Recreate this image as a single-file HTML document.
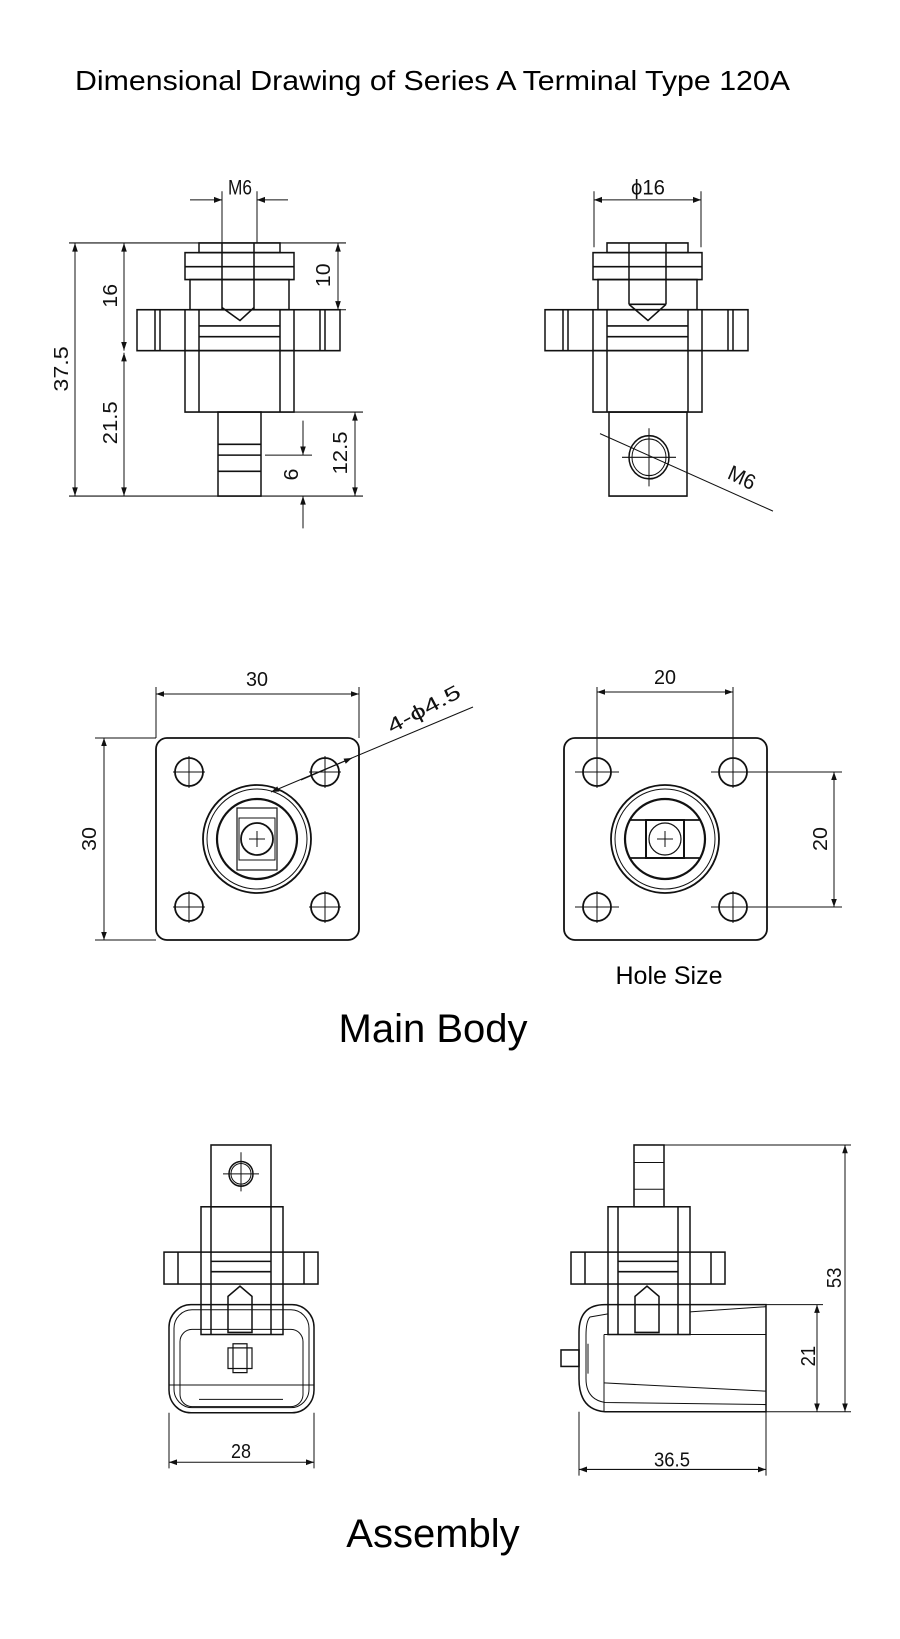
<!DOCTYPE html>
<html><head><meta charset="utf-8"><style>
html,body{margin:0;padding:0;background:#fff;}
svg{display:block;}
.t{font-family:"Liberation Sans",sans-serif;fill:#000;}
.d{font-family:"Liberation Sans",sans-serif;fill:#111;font-size:20px;}
</style></head><body>
<svg width="900" height="1639" viewBox="0 0 900 1639" xmlns="http://www.w3.org/2000/svg">
<defs>
<marker id="a" viewBox="0 0 10 10" refX="10" refY="5" markerWidth="12" markerHeight="8" markerUnits="userSpaceOnUse" orient="auto-start-reverse"><path d="M0,1.5 L10,5 L0,8.5 z" fill="#111"/></marker>
<g id="upper" fill="none" stroke="#111" stroke-width="1.5">
<rect x="199" y="228" width="81" height="9"/>
<rect x="185" y="237" width="109" height="25"/>
<line x1="185" y1="250" x2="294" y2="250"/>
<rect x="190" y="262" width="99" height="28"/>
<rect x="137" y="290" width="203" height="38"/>
<line x1="155" y1="290" x2="155" y2="328"/><line x1="160" y1="290" x2="160" y2="328"/>
<line x1="320" y1="290" x2="320" y2="328"/><line x1="325" y1="290" x2="325" y2="328"/>
<line x1="185" y1="290" x2="185" y2="328"/><line x1="294" y1="290" x2="294" y2="328"/>
<rect x="185" y="328" width="109" height="57"/>
<line x1="199" y1="290" x2="199" y2="385"/><line x1="280" y1="290" x2="280" y2="385"/>
<line x1="199" y1="305" x2="280" y2="305"/><line x1="199" y1="315" x2="280" y2="315"/>
</g>
<g id="asm" fill="none" stroke="#111" stroke-width="1.5">
<rect x="201" y="1203" width="82" height="124"/>
<line x1="211" y1="1203" x2="211" y2="1327"/><line x1="271" y1="1203" x2="271" y2="1327"/>
<rect x="164" y="1247" width="154" height="31"/>
<line x1="178" y1="1247" x2="178" y2="1278"/><line x1="304" y1="1247" x2="304" y2="1278"/>
<line x1="211" y1="1256" x2="271" y2="1256"/><line x1="211" y1="1266" x2="271" y2="1266"/>
<path d="M228,1290 L240,1280 L252,1290 L252,1325 L228,1325 Z"/>
</g>
</defs>

<text class="t" x="75" y="90" font-size="28" textLength="715" lengthAdjust="spacingAndGlyphs">Dimensional Drawing of Series A Terminal Type 120A</text>

<g transform="matrix(1,0,0,1.077,0,-2.6)">
<!-- View 1 -->
<use href="#upper"/>
<g fill="none" stroke="#111" stroke-width="1.5">
<line x1="222" y1="228" x2="222" y2="290"/><line x1="254" y1="228" x2="254" y2="290"/>
<path d="M222,288 L240,300 L254,288"/>
<rect x="218" y="385" width="43" height="78"/>
<line x1="218" y1="415" x2="261" y2="415"/><line x1="218" y1="425" x2="261" y2="425"/><line x1="218" y1="440" x2="261" y2="440"/>
</g>
<g stroke="#111" stroke-width="1" fill="none">
<line x1="222" y1="180" x2="222" y2="228"/><line x1="257" y1="180" x2="257" y2="228"/>
<line x1="190" y1="188" x2="222" y2="188" marker-end="url(#a)"/><line x1="288" y1="188" x2="257" y2="188" marker-end="url(#a)"/>
<line x1="69" y1="228" x2="346" y2="228"/><line x1="69" y1="463" x2="363" y2="463"/>
<line x1="261" y1="385" x2="363" y2="385"/><line x1="294" y1="290" x2="346" y2="290"/>
<line x1="265" y1="425" x2="312" y2="425"/>
<line x1="75" y1="228" x2="75" y2="463" marker-start="url(#a)" marker-end="url(#a)"/>
<line x1="124" y1="228" x2="124" y2="328" marker-start="url(#a)" marker-end="url(#a)"/>
<line x1="124" y1="330" x2="124" y2="463" marker-start="url(#a)" marker-end="url(#a)"/>
<line x1="338" y1="228" x2="338" y2="290" marker-start="url(#a)" marker-end="url(#a)"/>
<line x1="355" y1="385" x2="355" y2="463" marker-start="url(#a)" marker-end="url(#a)"/>
<line x1="303" y1="393" x2="303" y2="425" marker-end="url(#a)"/>
<line x1="303" y1="493" x2="303" y2="463" marker-end="url(#a)"/>
</g>
<text class="d" x="240" y="183" text-anchor="middle" textLength="24" lengthAdjust="spacingAndGlyphs">M6</text>
<text class="d" transform="translate(68,345) rotate(-90)" text-anchor="middle" textLength="42" lengthAdjust="spacingAndGlyphs">37.5</text>
<text class="d" transform="translate(117,277) rotate(-90)" text-anchor="middle" textLength="22" lengthAdjust="spacingAndGlyphs">16</text>
<text class="d" transform="translate(117,395) rotate(-90)" text-anchor="middle" textLength="40" lengthAdjust="spacingAndGlyphs">21.5</text>
<text class="d" transform="translate(330,258) rotate(-90)" text-anchor="middle" textLength="22" lengthAdjust="spacingAndGlyphs">10</text>
<text class="d" transform="translate(347,423) rotate(-90)" text-anchor="middle" textLength="40" lengthAdjust="spacingAndGlyphs">12.5</text>
<text class="d" transform="translate(298,443) rotate(-90)" text-anchor="middle">6</text>

<!-- View 2 -->
<use href="#upper" transform="translate(408,0)"/>
<g fill="none" stroke="#111" stroke-width="1.5">
<line x1="629" y1="228" x2="629" y2="285"/><line x1="666" y1="228" x2="666" y2="285"/>
<line x1="629" y1="285" x2="666" y2="285"/>
<path d="M629,285 L648,300 L666,285"/>
<rect x="609" y="385" width="78" height="78"/>
<circle cx="649" cy="427" r="20"/><circle cx="649" cy="427" r="17" stroke-width="1"/>
</g>
<g stroke="#111" stroke-width="1" fill="none">
<line x1="649" y1="400" x2="649" y2="454"/><line x1="622" y1="427" x2="676" y2="427"/>
<line x1="594" y1="180" x2="594" y2="232"/><line x1="701" y1="180" x2="701" y2="232"/>
<line x1="594" y1="188" x2="701" y2="188" marker-start="url(#a)" marker-end="url(#a)"/>
<line x1="600" y1="405" x2="773" y2="477"/>
</g>
<text class="d" x="648" y="183" text-anchor="middle" textLength="34" lengthAdjust="spacingAndGlyphs">ϕ16</text>
<text class="d" transform="translate(739,452) rotate(25)" text-anchor="middle" textLength="28" lengthAdjust="spacingAndGlyphs" fill="#444">M6</text>
</g>

<!-- Flange view left -->
<g fill="none" stroke="#111" stroke-width="1.8">
<rect x="156" y="738" width="203" height="202" rx="11"/>
<circle cx="189" cy="772" r="14"/><circle cx="325" cy="772" r="14"/>
<circle cx="189" cy="907" r="14"/><circle cx="325" cy="907" r="14"/>
<circle cx="257" cy="839" r="54"/><circle cx="257" cy="839" r="50" stroke-width="1"/>
<circle cx="257" cy="839" r="40" stroke-width="2.2"/>
<rect x="237" y="808" width="40" height="62" stroke-width="1.2"/>
<rect x="239" y="818" width="36" height="42" stroke-width="1"/>
<circle cx="257" cy="839" r="16"/>
</g>
<g stroke="#111" stroke-width="1" fill="none">
<path d="M173,772h32M189,756v32M309,772h32M325,756v32M173,907h32M189,891v32M309,907h32M325,891v32M249,839h16M257,831v16"/>
<line x1="156" y1="687" x2="156" y2="738"/><line x1="359" y1="687" x2="359" y2="738"/>
<line x1="156" y1="694" x2="359" y2="694" marker-start="url(#a)" marker-end="url(#a)"/>
<line x1="95" y1="738" x2="156" y2="738"/><line x1="95" y1="940" x2="156" y2="940"/>
<line x1="104" y1="738" x2="104" y2="940" marker-start="url(#a)" marker-end="url(#a)"/>
<line x1="473" y1="707" x2="271" y2="792" marker-end="url(#a)"/>
<line x1="301" y1="780" x2="352" y2="758" marker-end="url(#a)"/>
</g>
<text class="d" x="257" y="686" text-anchor="middle" textLength="22" lengthAdjust="spacingAndGlyphs">30</text>
<text class="d" transform="translate(96,839) rotate(-90)" text-anchor="middle" textLength="24" lengthAdjust="spacingAndGlyphs">30</text>
<text class="d" transform="translate(427,715) rotate(-28)" text-anchor="middle" textLength="80" lengthAdjust="spacingAndGlyphs" fill="#555">4-ϕ4.5</text>

<!-- Flange view right -->
<g fill="none" stroke="#111" stroke-width="1.8">
<rect x="564" y="738" width="203" height="202" rx="11"/>
<circle cx="597" cy="772" r="14"/><circle cx="733" cy="772" r="14"/>
<circle cx="597" cy="907" r="14"/><circle cx="733" cy="907" r="14"/>
<circle cx="665" cy="839" r="54"/><circle cx="665" cy="839" r="50" stroke-width="1"/>
<circle cx="665" cy="839" r="40" stroke-width="2.2"/>
<line x1="629" y1="820" x2="701" y2="820"/><line x1="629" y1="858" x2="701" y2="858"/>
<rect x="646" y="820" width="38" height="38" stroke-width="2"/>
<circle cx="665" cy="839" r="16" stroke-width="1.2"/>
</g>
<g stroke="#111" stroke-width="1" fill="none">
<path d="M575,772h44M597,756v32M711,772h44M733,756v32M575,907h44M597,891v32M711,907h44M733,891v32M657,839h16M665,831v16"/>
<line x1="597" y1="687" x2="597" y2="756"/><line x1="733" y1="687" x2="733" y2="756"/>
<line x1="597" y1="692" x2="733" y2="692" marker-start="url(#a)" marker-end="url(#a)"/>
<line x1="744" y1="772" x2="842" y2="772"/><line x1="744" y1="907" x2="842" y2="907"/>
<line x1="834" y1="772" x2="834" y2="907" marker-start="url(#a)" marker-end="url(#a)"/>
</g>
<text class="d" x="665" y="684" text-anchor="middle" textLength="22" lengthAdjust="spacingAndGlyphs">20</text>
<text class="d" transform="translate(827,839) rotate(-90)" text-anchor="middle" textLength="24" lengthAdjust="spacingAndGlyphs">20</text>
<text class="t" x="669" y="984" font-size="25" text-anchor="middle">Hole Size</text>
<text class="t" x="433" y="1042" font-size="40" text-anchor="middle">Main Body</text>

<g transform="matrix(1,0,0,1.03,0,-32.3)">
<!-- Assembly left -->
<use href="#asm"/>
<g fill="none" stroke="#111" stroke-width="1.5">
<rect x="211" y="1143" width="60" height="60"/>
<circle cx="241" cy="1171" r="12"/><circle cx="241" cy="1171" r="10" stroke-width="1"/>
<rect x="169" y="1298" width="145" height="105" rx="22"/>
<rect x="174" y="1303" width="135" height="95" rx="18" stroke-width="1"/>
<rect x="180" y="1322" width="123" height="75" rx="12" stroke-width="1"/>
<line x1="169" y1="1376" x2="314" y2="1376" stroke-width="1"/>
<line x1="199" y1="1390" x2="283" y2="1390" stroke-width="1"/>
<rect x="228" y="1340" width="24" height="20" stroke-width="1.2"/>
<rect x="233" y="1336" width="14" height="28" stroke-width="1.2"/>
</g>
<g stroke="#111" stroke-width="1" fill="none">
<path d="M223,1171h36M241,1150v38"/>
<line x1="169" y1="1403" x2="169" y2="1457"/><line x1="314" y1="1403" x2="314" y2="1457"/>
<line x1="169" y1="1451" x2="314" y2="1451" marker-start="url(#a)" marker-end="url(#a)"/>
</g>
<text class="d" x="241" y="1447" text-anchor="middle" textLength="20" lengthAdjust="spacingAndGlyphs">28</text>

<!-- Assembly right -->
<use href="#asm" transform="translate(407,0)"/>
<g fill="none" stroke="#111" stroke-width="1.5">
<rect x="634" y="1143" width="30" height="60"/>
<line x1="634" y1="1160" x2="664" y2="1160" stroke-width="1"/><line x1="634" y1="1186" x2="664" y2="1186" stroke-width="1"/>
<path d="M766,1298 L766,1402 L605,1402 Q579,1400 579,1370 L579,1325 Q579,1298 605,1298 Z"/>
<path d="M608,1307 L590,1310 Q586,1314 586,1328 L586,1370 Q586,1390 605,1393 L766,1395" stroke-width="1"/>
<line x1="690" y1="1305" x2="766" y2="1300" stroke-width="1"/>
<line x1="604" y1="1327" x2="766" y2="1327" stroke-width="1"/>
<line x1="604" y1="1374" x2="766" y2="1382" stroke-width="1"/>
<line x1="604" y1="1327" x2="604" y2="1402" stroke-width="1"/>
<rect x="561" y="1342" width="18" height="16"/>
<line x1="588" y1="1336" x2="588" y2="1365" stroke-width="1"/>
</g>
<g stroke="#111" stroke-width="1" fill="none">
<line x1="664" y1="1143" x2="851" y2="1143"/><line x1="766" y1="1298" x2="823" y2="1298"/>
<line x1="766" y1="1402" x2="851" y2="1402"/>
<line x1="845" y1="1143" x2="845" y2="1402" marker-start="url(#a)" marker-end="url(#a)"/>
<line x1="817" y1="1298" x2="817" y2="1402" marker-start="url(#a)" marker-end="url(#a)"/>
<line x1="579" y1="1402" x2="579" y2="1464"/><line x1="766" y1="1402" x2="766" y2="1464"/>
<line x1="579" y1="1458" x2="766" y2="1458" marker-start="url(#a)" marker-end="url(#a)"/>
</g>
<text class="d" transform="translate(841,1272) rotate(-90)" text-anchor="middle" textLength="20" lengthAdjust="spacingAndGlyphs">53</text>
<text class="d" transform="translate(815,1348) rotate(-90)" text-anchor="middle" textLength="20" lengthAdjust="spacingAndGlyphs">21</text>
<text class="d" x="672" y="1455" text-anchor="middle" textLength="36" lengthAdjust="spacingAndGlyphs">36.5</text>
</g>
<text class="t" x="433" y="1547" font-size="40" text-anchor="middle">Assembly</text>
</svg>
</body></html>
